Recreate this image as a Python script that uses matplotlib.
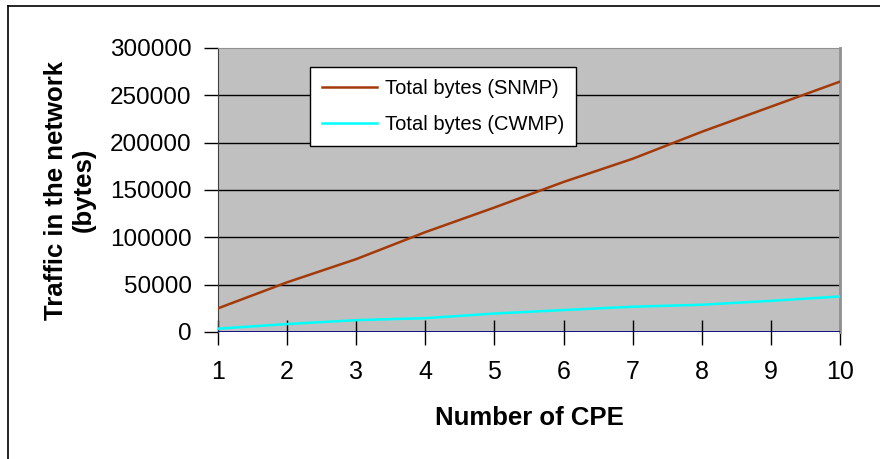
import numpy as np
import matplotlib.pyplot as plt
from matplotlib.lines import Line2D

plt.rcParams['font.family'] = ['Liberation Sans', 'DejaVu Sans']

# data
cpe = [1, 2, 3, 4, 5, 6, 7, 8, 9, 10]
snmp = [25000, 52500, 77000, 105500, 131500, 158500, 183000, 211500, 238000, 264500]
cwmp = [3500, 8400, 12500, 14600, 19500, 23200, 26700, 28800, 32900, 37500]
yticks = [0, 50000, 100000, 150000, 200000, 250000, 300000]

fig = plt.figure(figsize=(8.8, 4.59), dpi=100)
ax = fig.add_axes([218 / 880, 1 - 332 / 459, 622 / 880, 284 / 459])
ax.set_facecolor('#c0c0c0')

# outer chart border
fig.add_artist(Line2D([8 / 880, 8 / 880], [0, 1 - 6 / 459], transform=fig.transFigure, color='black', lw=1.2))
fig.add_artist(Line2D([8 / 880, 1], [1 - 6 / 459, 1 - 6 / 459], transform=fig.transFigure, color='black', lw=1.2))

for y in yticks[1:-1]:
    ax.axhline(y, color='black', lw=1, zorder=1)

ax.plot(cpe, snmp, color='#a33a0a', lw=1.8, label='Total bytes (SNMP)', zorder=3)
ax.plot(cpe, cwmp, color='#00ffff', lw=1.8, label='Total bytes (CWMP)', zorder=3)
ax.axhline(0, color='#000080', lw=2, zorder=4)

ax.set_xlim(1, 10)
ax.set_ylim(0, 300000)
ax.set_xticks(cpe)
ax.set_yticks(yticks)
ax.set_yticklabels([str(v) for v in yticks])

ax.tick_params(axis='y', direction='out', length=10, width=1, pad=9, labelsize=17.5)
ax.tick_params(axis='x', direction='inout', length=18, width=1, pad=11, labelsize=18)

ax.spines['left'].set_color('#404040')
ax.spines['bottom'].set_visible(False)
ax.spines['top'].set_color('#909090')
ax.spines['right'].set_color('#909090')
ax.spines['right'].set_linewidth(2)

ax.set_xlabel('Number of CPE', fontsize=18.5, fontweight='bold', labelpad=16)
ax.set_ylabel('Traffic in the network\n(bytes)', fontsize=18.5, fontweight='bold', labelpad=10)

leg = ax.legend(loc='upper left', bbox_to_anchor=(0.148, 0.933), borderaxespad=0,
                fontsize=14.5, handlelength=2.7, handletextpad=0.4, labelspacing=0.85,
                fancybox=False, framealpha=1, edgecolor='black', borderpad=0.6)
leg.get_frame().set_linewidth(1)

fig.savefig('out.png', dpi=100)
